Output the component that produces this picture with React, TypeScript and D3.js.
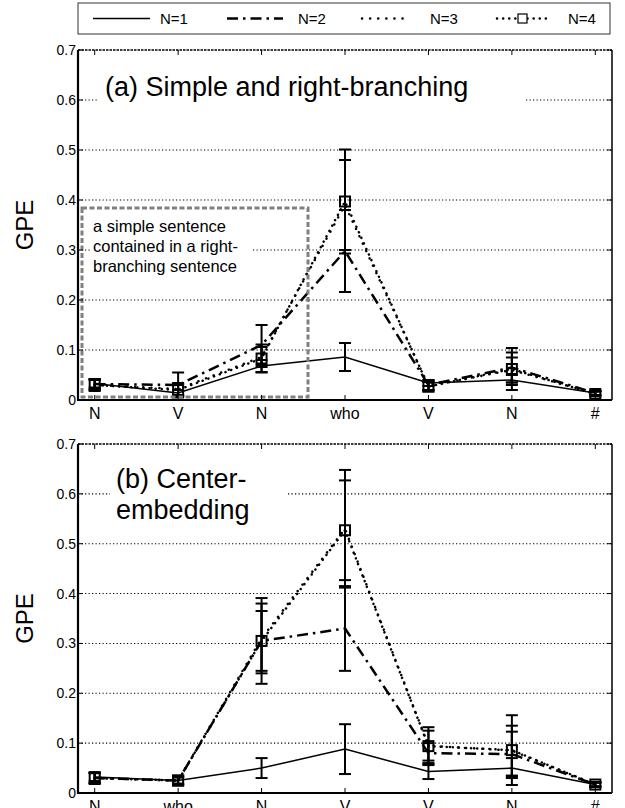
import React from "react";
import * as d3 from "d3";

// categories on the x axis of each panel
const catsA = ["N", "V", "N", "who", "V", "N", "#"];
const catsB = ["N", "who", "N", "V", "V", "N", "#"];
const yTicks = [0, 0.1, 0.2, 0.3, 0.4, 0.5, 0.6, 0.7];
const seriesNames = ["N=1", "N=2", "N=3", "N=4"];

// (a) simple and right-branching: mean GPE and error per position
const a1 = [0.033, 0.014, 0.068, 0.086, 0.034, 0.04, 0.014];
const a2 = [0.032, 0.03, 0.11, 0.298, 0.03, 0.065, 0.014];
const a3 = [0.03, 0.022, 0.086, 0.39, 0.028, 0.06, 0.013];
const a4 = [0.03, 0.02, 0.083, 0.397, 0.027, 0.062, 0.012];
const errA1 = [0.008, 0.006, 0.012, 0.028, 0.006, 0.01, 0.004];
const errA2 = [0.01, 0.025, 0.04, 0.082, 0.01, 0.03, 0.004];
const errA3 = [0.01, 0.012, 0.02, 0.09, 0.008, 0.025, 0.004];
const errA4 = [0.012, 0.012, 0.028, 0.104, 0.01, 0.042, 0.005];

// (b) center-embedding
const b1 = [0.032, 0.025, 0.05, 0.088, 0.043, 0.05, 0.017];
const b2 = [0.03, 0.025, 0.305, 0.33, 0.08, 0.078, 0.017];
const b3 = [0.03, 0.025, 0.31, 0.53, 0.095, 0.085, 0.017];
const b4 = [0.03, 0.025, 0.305, 0.527, 0.094, 0.086, 0.017];
const errB1 = [0.008, 0.006, 0.02, 0.05, 0.015, 0.02, 0.004];
const errB2 = [0.01, 0.008, 0.06, 0.085, 0.02, 0.045, 0.004];
const errB3 = [0.01, 0.008, 0.07, 0.118, 0.03, 0.05, 0.004];
const errB4 = [0.012, 0.01, 0.086, 0.1, 0.038, 0.07, 0.005];

const FONT = "'Liberation Sans', Arial, sans-serif";

const styles = [
  { width: 1.5, dash: "none", cap: "butt" },
  { width: 2.5, dash: "11,5,2.5,5", cap: "butt" },
  { width: 2.5, dash: "0.1,8", cap: "round" },
  { width: 2.5, dash: "0.1,6", cap: "round" },
];

function Panel({ top, bottom, cats, series, errs, children, boxes }) {
  const x = d3.scaleLinear().domain([0.8, 7.2]).range([78, 612]);
  const y = d3.scaleLinear().domain([0, 0.7]).range([bottom, top]);
  const line = d3
    .line<number>()
    .x((_, i) => x(i + 1))
    .y((d) => y(d));
  const fmt = (d) => (d === 0 ? "0" : d.toFixed(1));

  return (
    <g>
      {/* grid */}
      {yTicks.slice(1, -1).map((t) => (
        <line key={t} x1={78} x2={612} y1={y(t)} y2={y(t)} stroke="#000" strokeWidth={1.1} strokeDasharray="1.2,2.3" />
      ))}
      {boxes}
      {/* series lines */}
      {series.map((vals, k) => (
        <path
          key={k}
          d={line(vals)}
          fill="none"
          stroke="#000"
          strokeWidth={styles[k].width}
          strokeDasharray={styles[k].dash}
          strokeLinecap={styles[k].cap}
        />
      ))}
      {/* error bars */}
      {series.map((vals, k) =>
        vals.map((v, i) => {
          const cx = x(i + 1);
          const lo = y(v - errs[k][i]);
          const hi = y(v + errs[k][i]);
          return (
            <g key={k + "-" + i} stroke="#000" strokeWidth={2}>
              <line x1={cx} x2={cx} y1={lo} y2={hi} />
              <line x1={cx - 6} x2={cx + 6} y1={lo} y2={lo} />
              <line x1={cx - 6} x2={cx + 6} y1={hi} y2={hi} />
            </g>
          );
        })
      )}
      {/* square markers for N=4 */}
      {series[3].map((v, i) => (
        <rect key={i} x={x(i + 1) - 5} y={y(v) - 5} width={10} height={10} fill="none" stroke="#000" strokeWidth={2} />
      ))}
      {children}
      {/* axes frame */}
      <line x1={78} x2={612} y1={top} y2={top} stroke="#000" strokeWidth={1.5} strokeDasharray="2.5,1" />
      <line x1={612} x2={612} y1={top} y2={bottom} stroke="#000" strokeWidth={1.5} />
      <line x1={78} x2={78} y1={top} y2={bottom + 1} stroke="#000" strokeWidth={2.2} />
      <line x1={77} x2={612} y1={bottom} y2={bottom} stroke="#000" strokeWidth={2.2} />
      {cats.map((c, i) => (
        <g key={i}>
          <line x1={x(i + 1)} x2={x(i + 1)} y1={top} y2={top + 5} stroke="#000" strokeWidth={1} />
          <line x1={x(i + 1)} x2={x(i + 1)} y1={bottom} y2={bottom - 5} stroke="#000" strokeWidth={1} />
          <text x={x(i + 1)} y={bottom + 19} textAnchor="middle" fontFamily={FONT} fontSize={16}>
            {c}
          </text>
        </g>
      ))}
      {yTicks.map((t) => (
        <g key={t}>
          <line x1={78} x2={83} y1={y(t)} y2={y(t)} stroke="#000" strokeWidth={1} />
          <line x1={612} x2={607} y1={y(t)} y2={y(t)} stroke="#000" strokeWidth={1} />
          <text x={76} y={y(t) + 5} textAnchor="end" fontFamily={FONT} fontSize={14}>
            {fmt(t)}
          </text>
        </g>
      ))}
      <text
        transform={`translate(33,${(top + bottom) / 2}) rotate(-90)`}
        textAnchor="middle"
        fontFamily={FONT}
        fontSize={24}
      >
        GPE
      </text>
    </g>
  );
}

export default function App() {
  const legendX = [93, 227, 362, 497];
  const legendW = [57, 56, 41, 51];
  const labelX = [160, 298, 430, 568];
  return (
    <svg width={625} height={808} style={{ position: "absolute", left: 0, top: 0, background: "#fff" }}>
      <rect width={625} height={808} fill="#fff" />
      {/* legend */}
      <rect x={78} y={3} width={532} height={31} fill="#fff" stroke="#333" strokeWidth={1} />
      {seriesNames.map((n, k) => (
        <g key={n}>
          <line
            x1={legendX[k]}
            x2={legendX[k] + legendW[k]}
            y1={18.5}
            y2={18.5}
            stroke="#000"
            strokeWidth={styles[k].width}
            strokeDasharray={styles[k].dash}
            strokeLinecap={styles[k].cap}
          />
          {k === 3 && <rect x={518} y={14} width={9} height={9} fill="#fff" stroke="#000" strokeWidth={1.2} />}
          <text x={labelX[k]} y={24} fontFamily={FONT} fontSize={15}>
            {n}
          </text>
        </g>
      ))}

      <Panel
        top={50}
        bottom={400}
        cats={catsA}
        series={[a1, a2, a3, a4]}
        errs={[errA1, errA2, errA3, errA4]}
        boxes={
          <g>
            <rect x={97} y={68} width={429} height={42} fill="#fff" />
            <rect x={90} y={213} width={163} height={66} fill="#fff" />
          </g>
        }
      >
        <rect x={82} y={208} width={226} height={189} fill="none" stroke="#808080" strokeWidth={3} strokeDasharray="5,2.5" />
        <text x={105} y={96} fontFamily={FONT} fontSize={27}>
          (a) Simple and right-branching
        </text>
        <g fontFamily={FONT} fontSize={16.5} fill="#000">
          <text x={93} y={232}>a simple sentence</text>
          <text x={93} y={252}>contained in a right-</text>
          <text x={93} y={272}>branching sentence</text>
        </g>
      </Panel>

      <Panel
        top={444}
        bottom={793}
        cats={catsB}
        series={[b1, b2, b3, b4]}
        errs={[errB1, errB2, errB3, errB4]}
        boxes={<rect x={110} y={462} width={178} height={68} fill="#fff" />}
      >
        <g fontFamily={FONT} fontSize={27}>
          <text x={116} y={488}>(b) Center-</text>
          <text x={116} y={519}>embedding</text>
        </g>
      </Panel>
    </svg>
  );
}
